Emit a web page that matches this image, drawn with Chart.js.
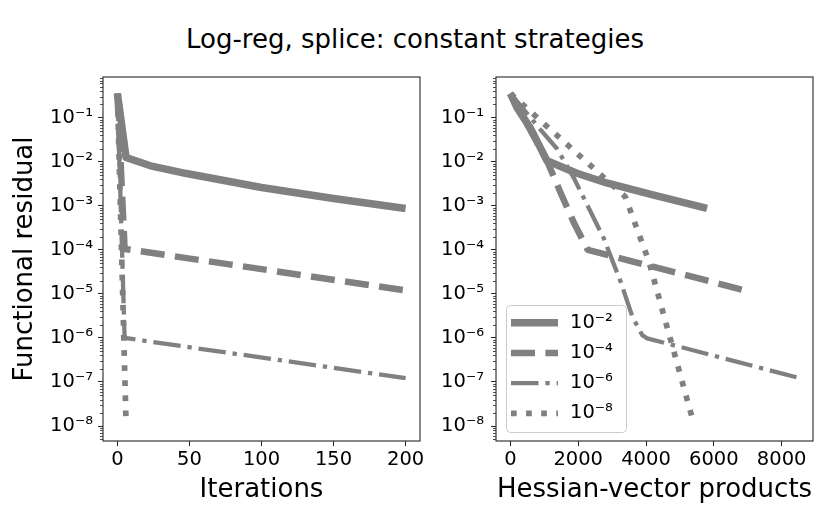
<!DOCTYPE html>
<html>
<head>
<meta charset="utf-8">
<script src="https://cdn.jsdelivr.net/npm/chart.js@4.4.1/dist/chart.umd.min.js"></script>
<style>
  html, body { margin: 0; padding: 0; background: #fff; }
  #wrap { position: relative; width: 830px; height: 519px; }
  #wrap canvas { position: absolute; left: 0; top: 0; }
  #title { position: absolute; left: 0; top: 24px; width: 830px; text-align: center;
           font: 26px 'DejaVu Sans', sans-serif; line-height: 30px; color: #000; }
</style>
</head>
<body>
<div id="wrap">
  <div id="title">Log-reg, splice: constant strategies</div>
  <canvas id="left" width="830" height="519"></canvas>
  <canvas id="right" width="830" height="519"></canvas>
</div>
<script>
// Inner accuracy of each constant strategy (legend)
const tolExps = [-2, -4, -6, -8];
const yTickExps = [-8, -7, -6, -5, -4, -3, -2, -1];
const iterTicks = [0, 50, 100, 150, 200];
const hvpTicks = [0, 2000, 4000, 6000, 8000];

// Residual vs iterations
const it2X = [0, 6, 23, 48, 100, 150, 200];
const it2Y = [0.355, 0.0125, 0.0081, 0.0054, 0.0026, 0.00147, 0.00087];
const it4X = [0, 5, 200];
const it4Y = [0.355, 0.000105, 0.000012];
const it6X = [0, 5, 200];
const it6Y = [0.355, 0.000001, 0.000000122];
const it8X = [0, 6];
const it8Y = [0.355, 0.000000012];

// Residual vs Hessian-vector products
const hv2X = [0, 200, 590, 1080, 1960, 2840, 4230, 5800];
const hv2Y = [0.355, 0.166, 0.058, 0.0105, 0.0055, 0.0033, 0.00175, 0.00087];
const hv4X = [0, 1080, 1490, 1880, 2280, 6920];
const hv4Y = [0.355, 0.0105, 0.0019, 0.0004, 0.0001, 0.000012];
const hv6X = [0, 930, 1370, 1870, 2750, 3250, 3600, 3890, 4035, 8490];
const hv6Y = [0.355, 0.049, 0.02, 0.0043, 0.000185, 0.000019, 0.000003, 0.00000115, 0.00000098, 0.000000125];
const hv8X = [0, 3390, 4090, 5400];
const hv8Y = [0.355, 0.0016, 0.000053, 0.000000012];

const GREY = '#808080';
const INK = '#262626';
const FONT = "'DejaVu Sans', sans-serif";

Chart.defaults.font.family = FONT;
Chart.defaults.color = '#000';

// line styles: solid, dashed, dash-dot, dotted (matplotlib-like, scaled by width)
const lineStyles = [
  { borderWidth: 7.5, borderDash: [] },
  { borderWidth: 6.5, borderDash: [24, 10.4] },
  { borderWidth: 4.3, borderDash: [27.5, 6.9, 4.3, 6.9] },
  { borderWidth: 5.7, borderDash: [5.7, 9.4] },
];

const SUP = { '-': '\u207B', '0': '\u2070', '1': '\u00B9', '2': '\u00B2', '3': '\u00B3',
  '4': '\u2074', '5': '\u2075', '6': '\u2076', '7': '\u2077', '8': '\u2078', '9': '\u2079' };
function pow10Label(e) {
  return '10' + String(e).split('').map(c => SUP[c]).join('');
}

function series(xs, ys) {
  return xs.map((x, i) => ({ x: x, y: ys[i] }));
}

function makeDatasets(pairs) {
  return pairs.map((p, i) => ({
    label: pow10Label(tolExps[i]),
    data: series(p[0], p[1]),
    borderColor: GREY,
    backgroundColor: GREY,
    borderWidth: lineStyles[i].borderWidth,
    borderDash: lineStyles[i].borderDash,
    borderJoinStyle: 'round',
    pointRadius: 0,
    tension: 0,
    fill: false,
    order: 4 - i
  }));
}

// box around the axes plus log minor ticks
const framePlugin = {
  id: 'frame',
  afterDraw(chart) {
    const { ctx, chartArea: a, scales } = chart;
    const y = scales.y;
    ctx.save();
    ctx.strokeStyle = INK;
    ctx.lineWidth = 0.8;
    ctx.beginPath();
    for (let e = -9; e <= 0; e++) {
      for (let m = 2; m <= 9; m++) {
        const v = m * Math.pow(10, e);
        if (v < y.min || v > y.max) continue;
        const py = Math.round(y.getPixelForValue(v)) + 0.5;
        ctx.moveTo(a.left - 3, py);
        ctx.lineTo(a.left, py);
      }
    }
    ctx.stroke();
    ctx.lineWidth = 1.1;
    ctx.strokeRect(a.left, a.top, a.right - a.left, a.bottom - a.top);
    ctx.restore();
  }
};

// legend box in lower-left corner of the right axes
const boxLegendPlugin = {
  id: 'boxLegend',
  afterDraw(chart) {
    const { ctx, chartArea: a } = chart;
    const x0 = a.left + 10, y0 = a.bottom - 136, w = 120, h = 127;
    ctx.save();
    ctx.fillStyle = 'rgba(255,255,255,0.8)';
    ctx.strokeStyle = '#cccccc';
    ctx.lineWidth = 1;
    ctx.beginPath();
    ctx.roundRect(x0 + 0.5, y0 + 0.5, w, h, 4);
    ctx.fill();
    ctx.stroke();
    chart.data.datasets.forEach((ds, i) => {
      const ly = y0 + 17.7 + i * 30.2;
      ctx.strokeStyle = ds.borderColor;
      ctx.lineWidth = ds.borderWidth;
      ctx.setLineDash(ds.borderDash);
      ctx.beginPath();
      ctx.moveTo(x0 + 5, ly);
      ctx.lineTo(x0 + 52, ly);
      ctx.stroke();
      ctx.setLineDash([]);
      ctx.fillStyle = '#000';
      ctx.font = '19.5px ' + FONT;
      ctx.textBaseline = 'middle';
      ctx.textAlign = 'left';
      ctx.fillText(ds.label, x0 + 64, ly);
    });
    ctx.restore();
  }
};

function axisX(min, max, ticks, title) {
  return {
    type: 'linear', min: min, max: max,
    afterBuildTicks: s => { s.ticks = ticks.map(v => ({ value: v })); },
    afterFit: s => { s.height = 78; },
    ticks: { font: { size: 19.5 }, color: '#000', padding: 2, maxRotation: 0, autoSkip: false,
             callback: v => String(v) },
    grid: { drawOnChartArea: false, drawTicks: true, tickLength: 5, tickColor: INK, tickWidth: 1 },
    border: { display: false },
    title: { display: true, text: title, font: { size: 26 }, color: '#000', padding: { top: 0, bottom: 13 } }
  };
}

function axisY(width, pad, title) {
  return {
    type: 'logarithmic', min: 4.57e-9, max: 0.841,
    afterBuildTicks: s => { s.ticks = yTickExps.map(e => ({ value: Math.pow(10, e) })); },
    afterFit: s => { s.width = width; },
    ticks: {
      font: { size: 19.5 }, color: '#000', padding: pad, autoSkip: false,
      callback: v => pow10Label(Math.round(Math.log10(v)))
    },
    grid: { drawOnChartArea: false, drawTicks: true, tickLength: 5, tickColor: INK, tickWidth: 1 },
    border: { display: false },
    title: title
      ? { display: true, text: title, font: { size: 26 }, color: '#000', padding: { top: 10, bottom: 0 } }
      : { display: false }
  };
}

const baseOptions = {
  responsive: false,
  animation: false,
  events: [],
  plugins: { legend: { display: false }, tooltip: { enabled: false } }
};

new Chart(document.getElementById('left'), {
  type: 'line',
  data: { datasets: makeDatasets([[it2X, it2Y], [it4X, it4Y], [it6X, it6Y], [it8X, it8Y]]) },
  options: Object.assign({}, baseOptions, {
    layout: { padding: { left: 0, right: 410, top: 77, bottom: 0 } },
    scales: {
      x: axisX(-10, 210, iterTicks, 'Iterations'),
      y: axisY(103, 5, 'Functional residual')
    }
  }),
  plugins: [framePlugin]
});

new Chart(document.getElementById('right'), {
  type: 'line',
  data: { datasets: makeDatasets([[hv2X, hv2Y], [hv4X, hv4Y], [hv6X, hv6Y], [hv8X, hv8Y]]) },
  options: Object.assign({}, baseOptions, {
    layout: { padding: { left: 420, right: 17, top: 77, bottom: 0 } },
    scales: {
      x: axisX(-425, 8925, hvpTicks, 'Hessian-vector products'),
      y: axisY(76, 7, null)
    }
  }),
  plugins: [framePlugin, boxLegendPlugin]
});
</script>
</body>
</html>
